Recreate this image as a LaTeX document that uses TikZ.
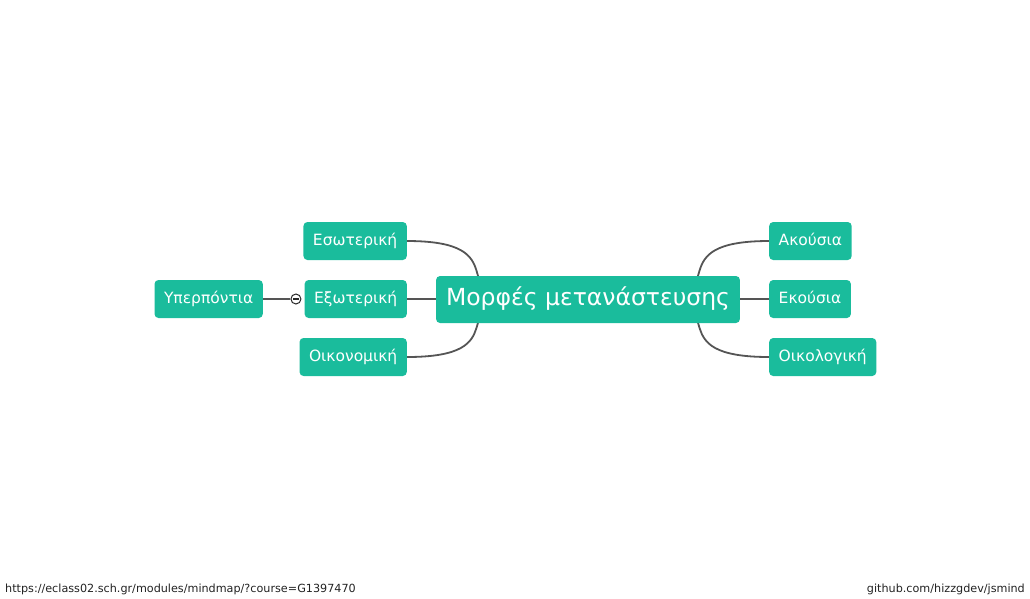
\documentclass[tikz,border=0pt]{standalone}
\usepackage{fontspec}
\setmainfont{DejaVu Sans}
\usetikzlibrary{backgrounds,calc,positioning}
\definecolor{topicteal}{HTML}{1ABC9C}
\definecolor{linkgray}{HTML}{555555}
\definecolor{footgray}{HTML}{222222}
% jsmind-like link: from a point behind the root to a child anchor
\newcommand{\mmlink}[2]{%
  \draw[link] (#1) .. controls ($(#1)!2/3!(#1 -| #2)$) and (#1 |- #2) .. (#2);
}

\begin{document}
\begin{tikzpicture}[
		x=1pt, y=-1pt,
		topic/.style={rounded corners=4pt, fill=topicteal, text=white, inner xsep=9.5pt,
			inner ysep=0pt, minimum height=38pt, text height=11.5pt, text depth=3.5pt,
			font=\fontsize{15.5}{18}\selectfont},
		roottopic/.style={topic, minimum height=47pt, inner xsep=10pt,
			text height=17pt, text depth=5pt, font=\fontsize{23.5}{28}\selectfont},
		link/.style={draw=linkgray, line width=1.8pt},
		expander/.style={circle, draw=black!85, fill=white, line width=1pt,
			minimum size=10pt, inner sep=0pt,
			path picture={\draw[line width=1.3pt] ([xshift=-2.6pt]path picture bounding box.center)
				-- ([xshift=2.6pt]path picture bounding box.center);}},
		foot/.style={font=\fontsize{11.2}{13}\selectfont, text=footgray, inner sep=0pt},
	]

	\useasboundingbox (0,0) rectangle (1030,598);

	% x coordinates
	\def\xleft{407}
	\def\xright{769}
	\def\xouter{263}

	% y rows
	\def\ytop{241}
	\def\ymid{299}
	\def\ybot{357}

	% root
	\node[roottopic] (root) at (588, 299.5) {Μορφές μετανάστευσης};

	% left branch
	\node[topic, anchor=east] (inner) at (\xleft, \ytop) {Εσωτερική};
	\node[topic, anchor=east] (outer) at (\xleft, \ymid) {Εξωτερική};
	\node[topic, anchor=east] (econ) at (\xleft, \ybot) {Οικονομική};
	\node[topic, anchor=east] (overseas) at (\xouter, \ymid) {Υπερπόντια};

	% right branch
	\node[topic, anchor=west] (forced) at (\xright, \ytop) {Ακούσια};
	\node[topic, anchor=west] (volunt) at (\xright, \ymid) {Εκούσια};
	\node[topic, anchor=west] (ecolog) at (\xright, \ybot) {Οικολογική};

	% collapse toggle of Εξωτερική
	\node[expander] (toggle) at ([xshift=-8.5pt]outer.west) {};

	% links behind the boxes
	\begin{scope}[on background layer]
		\coordinate (rootW) at ([xshift=-70pt]root.center);
		\coordinate (rootE) at ([xshift=70pt]root.center);
		\mmlink{rootW}{inner.east}
		\mmlink{rootW}{outer.east}
		\mmlink{rootW}{econ.east}
		\mmlink{rootE}{forced.west}
		\mmlink{rootE}{volunt.west}
		\mmlink{rootE}{ecolog.west}
		\draw[link] (overseas.east) -- (toggle);
	\end{scope}

	% footer
	\node[foot, anchor=west] (source) at (5, 589) {https://eclass02.sch.gr/modules/mindmap/?course=G1397470};
	\node[foot, anchor=east] (credit) at (1025, 589) {github.com/hizzgdev/jsmind};

\end{tikzpicture}
\end{document}
